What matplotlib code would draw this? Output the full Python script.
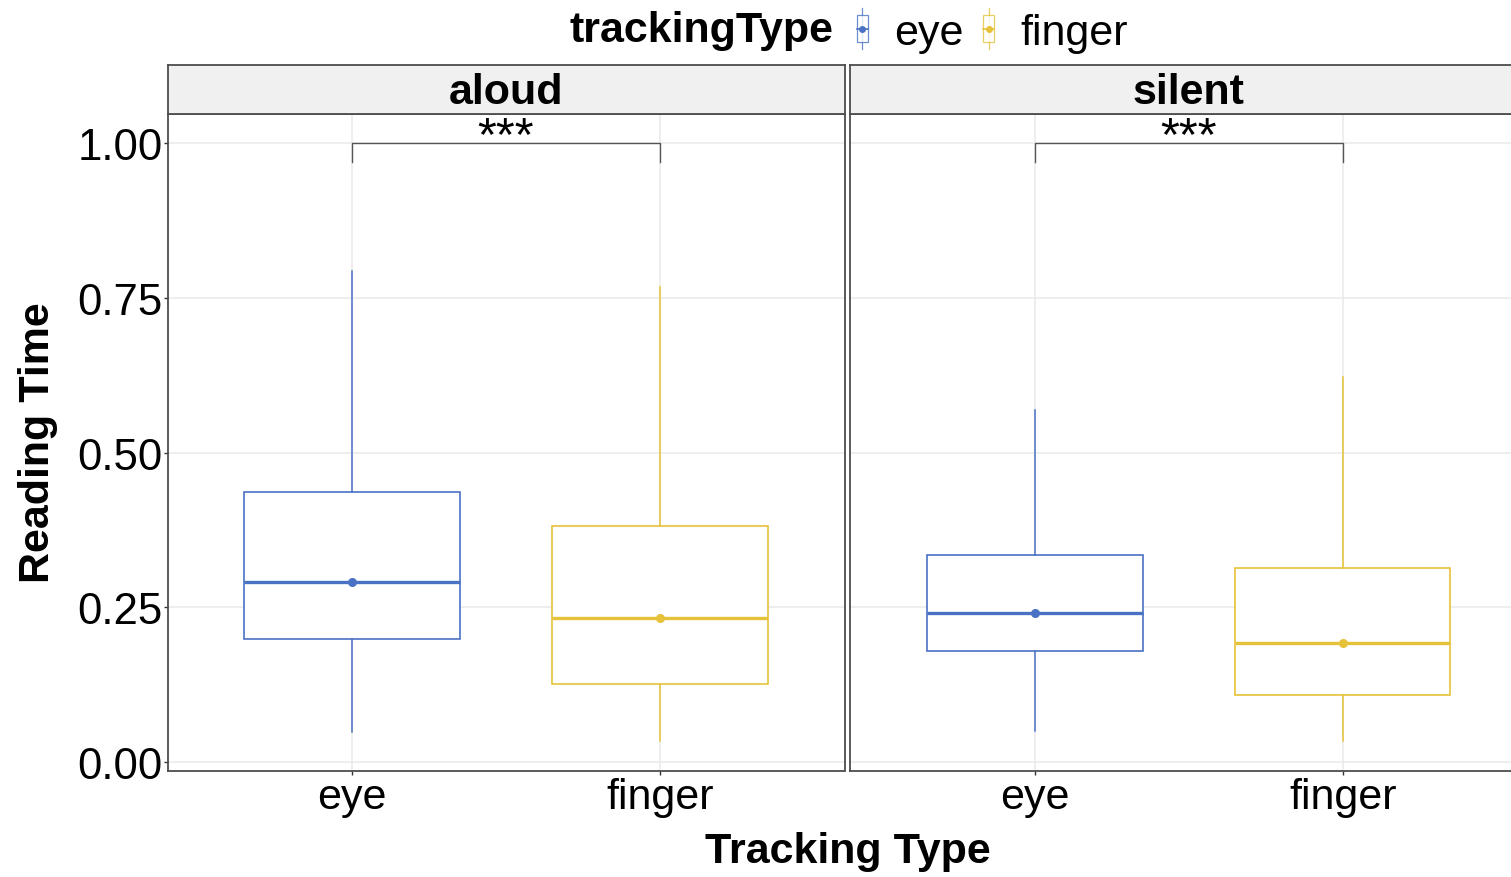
import matplotlib
matplotlib.use("Agg")
import matplotlib.pyplot as plt
from matplotlib.legend_handler import HandlerBase
from matplotlib.lines import Line2D
from matplotlib.patches import Rectangle

plt.rcParams['font.family'] = ['Liberation Sans', 'DejaVu Sans']

# data
conditions = ['aloud', 'silent']
tracking = ['eye', 'finger']
colors = ['#4A72C4', '#E6C23A']
whisker_low = [[0.049, 0.035], [0.051, 0.035]]
q1 = [[0.199, 0.126], [0.179, 0.109]]
medians = [[0.291, 0.233], [0.241, 0.193]]
q3 = [[0.437, 0.382], [0.335, 0.313]]
whisker_high = [[0.793, 0.768], [0.569, 0.622]]
signif = ['***', '***']
bracket_y = 1.0
bracket_drop = 0.031

W, H = 1511, 878
fig = plt.figure(figsize=(W / 100, H / 100), dpi=100)

FS = 31
grid_col = '#EBEBEB'
border_col = '#4D4D4D'


def px_box(x0, y0, x1, y1):
    # pixel box (top-left origin) -> figure fraction rect
    return [x0 / W, 1 - y1 / H, (x1 - x0) / W, (y1 - y0) / H]


panel_left = [167.5, 850.3]
panel_w = 677
for i, cond in enumerate(conditions):
    ax = fig.add_axes(px_box(panel_left[i], 115, panel_left[i] + panel_w, 771.7))
    stats = []
    for j in range(len(tracking)):
        stats.append(dict(med=medians[i][j], q1=q1[i][j], q3=q3[i][j],
                          whislo=whisker_low[i][j], whishi=whisker_high[i][j],
                          fliers=[], label=tracking[j]))
    pos = [1, 2]
    bp = ax.bxp(stats, positions=pos, widths=0.7, showcaps=False,
                patch_artist=True, manage_ticks=False, zorder=3)
    for j in range(len(tracking)):
        c = colors[j]
        bp['boxes'][j].set(facecolor='white', edgecolor=c, linewidth=1.2)
        bp['medians'][j].set(color=c, linewidth=2.4)
        for w in bp['whiskers'][2 * j:2 * j + 2]:
            w.set(color=c, linewidth=1.1)
        ax.plot(pos[j], medians[i][j], 'o', color=c, markersize=5.5, zorder=4)

    # significance bracket
    ax.plot([pos[0], pos[0], pos[1], pos[1]],
            [bracket_y - bracket_drop, bracket_y, bracket_y, bracket_y - bracket_drop],
            color='#555555', linewidth=1.0, zorder=4)
    ax.text((pos[0] + pos[1]) / 2, bracket_y - 0.009, signif[i], ha='center',
            va='baseline', fontsize=35)

    ax.set_xlim(0.4, 2.6)
    ax.set_ylim(-0.0136, 1.047)
    ax.set_yticks([0, 0.25, 0.5, 0.75, 1.0])
    ax.set_xticks(pos)
    ax.set_xticklabels(tracking, fontsize=FS)
    ax.tick_params(colors='#333333', labelcolor='black', length=2.8, width=1, pad=2)
    if i == 0:
        ax.set_yticklabels(['0.00', '0.25', '0.50', '0.75', '1.00'], fontsize=31.5)
        ax.tick_params(axis='y', pad=0.5)
    else:
        ax.set_yticklabels([])
        ax.tick_params(axis='y', length=0)
    ax.grid(True, color=grid_col, linewidth=1.2, zorder=0)
    ax.set_axisbelow(True)
    for s in ax.spines.values():
        s.set_color(border_col)
        s.set_linewidth(1.3)

    # facet strip
    sax = fig.add_axes(px_box(panel_left[i], 66, panel_left[i] + panel_w, 115))
    sax.set_facecolor('#F0F0F0')
    sax.set_xticks([])
    sax.set_yticks([])
    for s in sax.spines.values():
        s.set_color(border_col)
        s.set_linewidth(1.3)
    sax.text(0.5, 0.45, cond, transform=sax.transAxes, ha='center', va='center',
             fontsize=FS, fontweight='bold')

fig.text(38 / W, 1 - 443 / H, 'Reading Time', rotation=90, ha='center', va='center',
         fontsize=FS, fontweight='bold')
fig.text(848 / W, 1 - 852 / H, 'Tracking Type', ha='center', va='center',
         fontsize=FS, fontweight='bold')


class BoxKey(HandlerBase):
    def create_artists(self, legend, orig_handle, xdescent, ydescent, width, height,
                       fontsize, trans):
        c = orig_handle.get_color()
        cx = width / 2 - xdescent
        y0 = -ydescent
        arts = [
            Line2D([cx, cx], [y0 - 0.1 * height, y0 + 1.1 * height], color=c, lw=0.9,
                   alpha=0.8),
            Rectangle((cx - width / 2, y0 + 0.1 * height), width, 0.8 * height,
                      facecolor='white', edgecolor=c, lw=0.9, alpha=0.8),
            Line2D([cx - width / 2, cx + width / 2], [y0 + 0.5 * height] * 2, color=c, lw=1.2),
            Line2D([cx], [y0 + 0.5 * height], marker='o', color=c, markersize=4),
        ]
        for a in arts:
            a.set_transform(trans)
        return arts


handles = [Line2D([], [], color=c) for c in colors]
fig.text(833 / W, 1 - 31 / H, 'trackingType', ha='right', va='center',
         fontsize=FS, fontweight='bold')
fig.legend(handles, tracking, handler_map={Line2D: BoxKey()},
           loc='center left', bbox_to_anchor=(857 / W, 1 - 33 / H), ncol=2,
           frameon=False, fontsize=FS, handlelength=0.25, handleheight=0.85,
           handletextpad=0.62, columnspacing=0.45, borderpad=0, borderaxespad=0)

fig.savefig('out.png', dpi=100)
